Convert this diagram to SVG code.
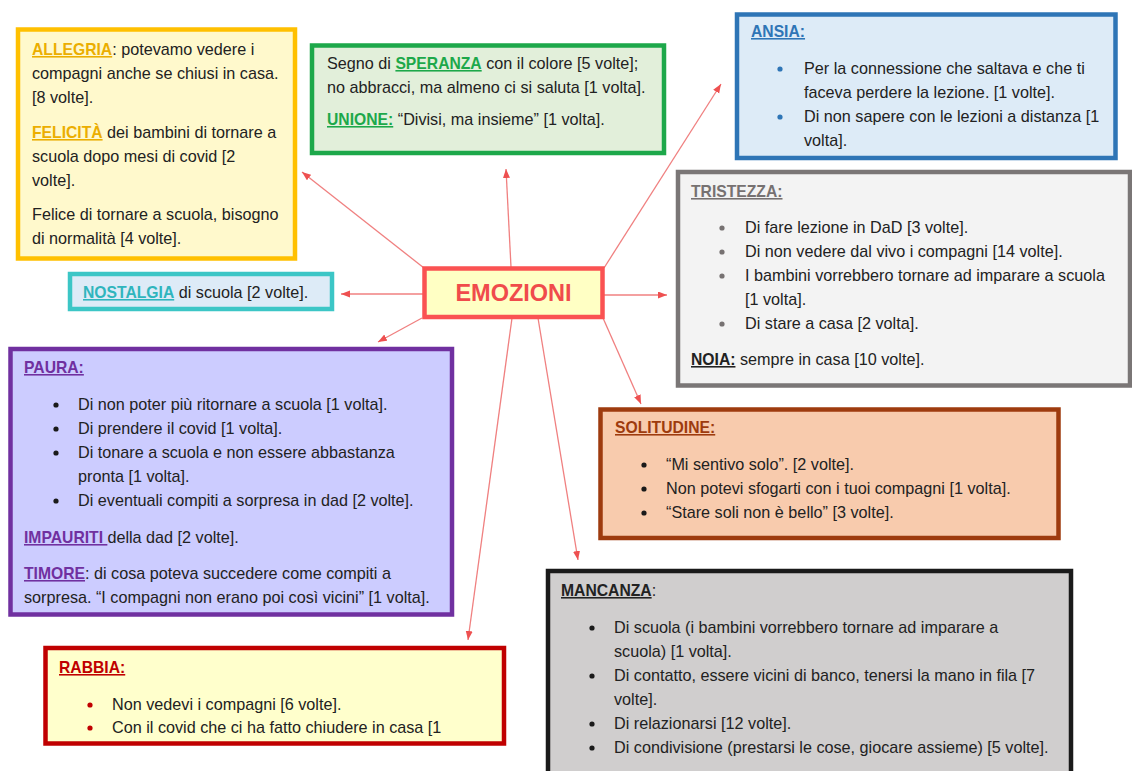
<svg xmlns="http://www.w3.org/2000/svg" width="1132" height="771" viewBox="0 0 1132 771">
<style>
text{font-family:"Liberation Sans",Arial,sans-serif;font-size:16.2px;fill:#222222}
.b{font-weight:bold;text-decoration:underline;font-size:15.7px}
.box{stroke-width:4.5}
.con line{stroke:#F08080;stroke-width:1.3;fill:none}
</style>
<defs>
<marker id="ah" markerUnits="userSpaceOnUse" markerWidth="10" markerHeight="8" refX="9" refY="3.5" orient="auto">
<path d="M0,0 L9,3.5 L0,7 z" fill="#EE5050"/>
</marker>
</defs>
<rect width="1132" height="771" fill="#FFFFFF"/>

<g class="con">
<line x1="424" y1="268" x2="302" y2="172" marker-end="url(#ah)"/>
<line x1="511" y1="267" x2="506" y2="169" marker-end="url(#ah)"/>
<line x1="604" y1="268" x2="721" y2="84" marker-end="url(#ah)"/>
<line x1="423" y1="294" x2="341" y2="294" marker-end="url(#ah)"/>
<line x1="604" y1="295" x2="667" y2="295" marker-end="url(#ah)"/>
<line x1="422" y1="318" x2="378" y2="342" marker-end="url(#ah)"/>
<line x1="603" y1="318" x2="641" y2="404" marker-end="url(#ah)"/>
<line x1="512" y1="318" x2="468" y2="640" marker-end="url(#ah)"/>
<line x1="538" y1="318" x2="578" y2="560" marker-end="url(#ah)"/>
</g>

<g id="emozioni">
<rect class="box" x="424.5" y="268.5" width="178" height="48.5" fill="#FFFFC4" stroke="#FA5252"/>
<text x="513.5" y="301" text-anchor="middle" style="font-size:23.5px;font-weight:bold;fill:#F04B4B">EMOZIONI</text>
</g>

<g id="allegria">
<rect class="box" x="18" y="29.5" width="277" height="229" fill="#FFF9CC" stroke="#FFC000"/>
<text x="32" y="55"><tspan class="b" style="fill:#EBAE00">ALLEGRIA</tspan>: potevamo vedere i</text>
<text x="32" y="79">compagni anche se chiusi in casa.</text>
<text x="32" y="103">[8 volte].</text>
<text x="32" y="138"><tspan class="b" style="fill:#EBAE00">FELICITÀ</tspan> dei bambini di tornare a</text>
<text x="32" y="162">scuola dopo mesi di covid [2</text>
<text x="32" y="186">volte].</text>
<text x="32" y="220">Felice di tornare a scuola, bisogno</text>
<text x="32" y="244">di normalità [4 volte].</text>
</g>

<g id="speranza">
<rect class="box" x="312" y="45.5" width="352" height="107.5" fill="#E2EFDA" stroke="#1DA84A"/>
<text x="327" y="69">Segno di <tspan class="b" style="fill:#1DA84A">SPERANZA</tspan> con il colore [5 volte];</text>
<text x="327" y="93">no abbracci, ma almeno ci si saluta [1 volta].</text>
<text x="327" y="125"><tspan class="b" style="fill:#1DA84A">UNIONE:</tspan> “Divisi, ma insieme” [1 volta].</text>
</g>

<g id="ansia">
<rect class="box" x="737" y="14.5" width="378.5" height="143.5" fill="#DDEBF7" stroke="#2E75B6"/>
<text x="751" y="37" class="b" style="fill:#2E75B6">ANSIA:</text>
<circle cx="780" cy="69" r="2.6" fill="#2E75B6"/>
<circle cx="780" cy="117" r="2.6" fill="#2E75B6"/>
<text x="804" y="74">Per la connessione che saltava e che ti</text>
<text x="804" y="98">faceva perdere la lezione. [1 volte].</text>
<text x="804" y="122">Di non sapere con le lezioni a distanza [1</text>
<text x="804" y="146">volta].</text>
</g>

<g id="tristezza">
<rect class="box" x="678" y="172" width="452" height="213.5" fill="#F3F3F3" stroke="#7A7676"/>
<text x="691" y="197" class="b" style="fill:#767171">TRISTEZZA:</text>
<circle cx="722" cy="228" r="2.6" fill="#767171"/>
<circle cx="722" cy="252" r="2.6" fill="#767171"/>
<circle cx="722" cy="276" r="2.6" fill="#767171"/>
<circle cx="722" cy="324" r="2.6" fill="#767171"/>
<text x="745" y="233">Di fare lezione in DaD [3 volte].</text>
<text x="745" y="257">Di non vedere dal vivo i compagni [14 volte].</text>
<text x="745" y="281">I bambini vorrebbero tornare ad imparare a scuola</text>
<text x="745" y="305">[1 volta].</text>
<text x="745" y="329">Di stare a casa [2 volta].</text>
<text x="691" y="365"><tspan class="b">NOIA:</tspan> sempre in casa [10 volte].</text>
</g>

<g id="nostalgia">
<rect class="box" x="70" y="274" width="262" height="35" fill="#DDEBF7" stroke="#3CC6C6"/>
<text x="83" y="298"><tspan class="b" style="fill:#2FB5BD">NOSTALGIA</tspan> di scuola [2 volte].</text>
</g>

<g id="paura">
<rect class="box" x="10.5" y="349" width="441.5" height="265.5" fill="#CCCCFF" stroke="#7030A0"/>
<text x="24" y="373" class="b" style="fill:#7030A0">PAURA:</text>
<circle cx="56" cy="405" r="2.6" fill="#1a1a1a"/>
<circle cx="56" cy="429" r="2.6" fill="#1a1a1a"/>
<circle cx="56" cy="453" r="2.6" fill="#1a1a1a"/>
<circle cx="56" cy="501" r="2.6" fill="#1a1a1a"/>
<text x="78" y="410">Di non poter più ritornare a scuola [1 volta].</text>
<text x="78" y="434">Di prendere il covid [1 volta].</text>
<text x="78" y="458">Di tonare a scuola e non essere abbastanza</text>
<text x="78" y="482">pronta [1 volta].</text>
<text x="78" y="506">Di eventuali compiti a sorpresa in dad [2 volte].</text>
<text x="24" y="543"><tspan class="b" style="fill:#7030A0">IMPAURITI </tspan>della dad [2 volte].</text>
<text x="24" y="579"><tspan class="b" style="fill:#7030A0">TIMORE</tspan>: di cosa poteva succedere come compiti a</text>
<text x="24" y="603">sorpresa. “I compagni non erano poi così vicini” [1 volta].</text>
</g>

<g id="solitudine">
<rect class="box" x="600.5" y="409.5" width="458" height="128.5" fill="#F8CBAD" stroke="#9E3B0E"/>
<text x="615" y="433" class="b" style="fill:#9E3B0E">SOLITUDINE:</text>
<circle cx="644" cy="465" r="2.6" fill="#1a1a1a"/>
<circle cx="644" cy="489" r="2.6" fill="#1a1a1a"/>
<circle cx="644" cy="513" r="2.6" fill="#1a1a1a"/>
<text x="666" y="470">“Mi sentivo solo”. [2 volte].</text>
<text x="666" y="494">Non potevi sfogarti con i tuoi compagni [1 volta].</text>
<text x="666" y="518">“Stare soli non è bello” [3 volte].</text>
</g>

<g id="rabbia">
<rect class="box" x="45.5" y="648" width="458.5" height="95.5" fill="#FFFFCC" stroke="#C00000"/>
<text x="59" y="673" class="b" style="fill:#C00000">RABBIA:</text>
<circle cx="90" cy="705" r="2.6" fill="#C00000"/>
<circle cx="90" cy="728" r="2.6" fill="#C00000"/>
<text x="112" y="710">Non vedevi i compagni [6 volte].</text>
<text x="112" y="733">Con il covid che ci ha fatto chiudere in casa [1</text>
</g>

<g id="mancanza">
<rect class="box" x="548" y="571" width="523" height="215" fill="#D0CECE" stroke="#1A1A1A"/>
<text x="561" y="596"><tspan class="b">MANCANZA</tspan>:</text>
<circle cx="592" cy="628" r="2.6" fill="#1a1a1a"/>
<circle cx="592" cy="676" r="2.6" fill="#1a1a1a"/>
<circle cx="592" cy="724" r="2.6" fill="#1a1a1a"/>
<circle cx="592" cy="748" r="2.6" fill="#1a1a1a"/>
<text x="614" y="633">Di scuola (i bambini vorrebbero tornare ad imparare a</text>
<text x="614" y="657">scuola) [1 volta].</text>
<text x="614" y="681">Di contatto, essere vicini di banco, tenersi la mano in fila [7</text>
<text x="614" y="705">volte].</text>
<text x="614" y="729">Di relazionarsi [12 volte].</text>
<text x="614" y="753">Di condivisione (prestarsi le cose, giocare assieme) [5 volte].</text>
</g>
</svg>
